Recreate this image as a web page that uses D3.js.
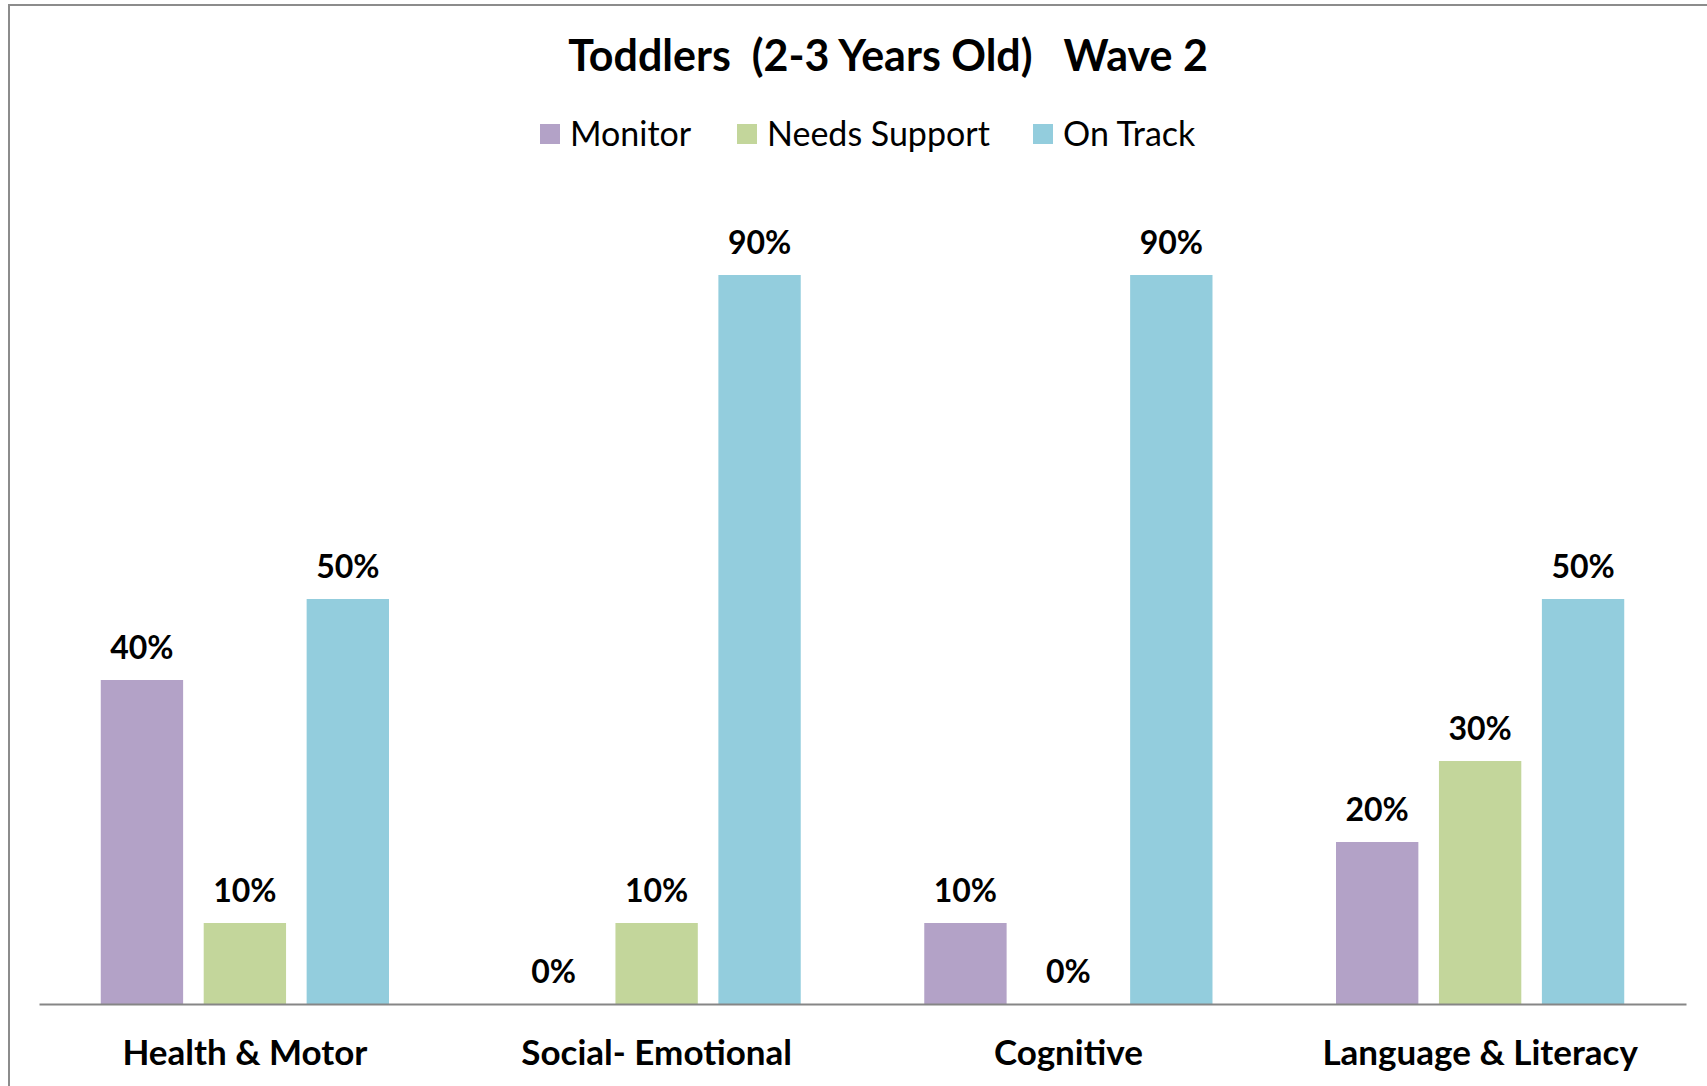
<!DOCTYPE html>
<html lang="en">
<head>
    <meta charset="UTF-8">
    <title>Toddlers Wave 2</title>
    <style>
        body { margin: 0; background: white; }
        text { font-family: Lato, "Open Sans", sans-serif; fill: #000; }
    </style>
    <script src="https://d3js.org/d3.v7.min.js"></script>
</head>
<body>
    <div class="graph"></div>
<script>
    // data
    const categories = ['Health & Motor', 'Social- Emotional', 'Cognitive', 'Language & Literacy']
    const series = ['Monitor', 'Needs Support', 'On Track']
    const monitor = [40, 0, 10, 20]
    const needsSupport = [10, 10, 0, 30]
    const onTrack = [50, 90, 90, 50]
    const colors = ['#b3a2c7', '#c3d69b', '#93cddd']

    const values = [monitor, needsSupport, onTrack]
    const rows = categories.map((c, i) => ({
        cat: c,
        vals: series.map((s, j) => ({ key: s, v: values[j][i] }))
    }))

    const width = 1707, height = 1086
    const svg = d3.select('.graph').append('svg')
        .attr('width', width)
        .attr('height', height)

    // frame (only top & left visible)
    svg.append('path')
        .attr('d', `M9 ${height} V5 H${width}`)
        .attr('fill', 'none')
        .attr('stroke', '#8c8c8c')
        .attr('stroke-width', 2)

    const x0 = d3.scaleBand()
        .domain(categories)
        .range([39, 1686])
    const x1 = d3.scaleBand()
        .domain(series)
        .range([0, x0.bandwidth()])
        .paddingInner(0.2)
        .paddingOuter(0.6)
    const y = d3.scaleLinear()
        .domain([0, 100])
        .range([1004, 194])

    // title
    svg.append('text')
        .attr('x', 888).attr('y', 71)
        .attr('text-anchor', 'middle')
        .attr('font-size', 43).attr('font-weight', 'bold')
        .attr('xml:space', 'preserve')
        .text('Toddlers  (2-3 Years Old)   Wave 2')

    // legend
    const legX = [540, 737, 1033]
    const leg = svg.selectAll('.leg').data(series).enter().append('g')
        .attr('class', 'leg')
        .attr('transform', (d, i) => `translate(${legX[i]}, 134)`)
    leg.append('rect')
        .attr('x', 0).attr('y', -10)
        .attr('width', 20).attr('height', 20)
        .attr('fill', (d, i) => colors[i])
    leg.append('text')
        .attr('x', 30).attr('y', 12)
        .attr('font-size', 34)
        .text(d => d)

    // bars
    const groups = svg.selectAll('.grp').data(rows).enter().append('g')
        .attr('class', 'grp')
        .attr('transform', d => `translate(${x0(d.cat)}, 0)`)
    groups.selectAll('rect').data(d => d.vals).enter().append('rect')
        .attr('x', d => x1(d.key))
        .attr('y', d => y(d.v))
        .attr('width', x1.bandwidth())
        .attr('height', d => y(0) - y(d.v))
        .attr('fill', (d, i) => colors[i])
    groups.selectAll('.val').data(d => d.vals).enter().append('text')
        .attr('class', 'val')
        .attr('x', d => x1(d.key) + x1.bandwidth() / 2)
        .attr('y', d => y(d.v) - 21)
        .attr('text-anchor', 'middle')
        .attr('font-size', 32).attr('font-weight', 'bold')
        .text(d => d.v + '%')

    // x axis
    const xAxis = svg.append('g')
        .attr('transform', `translate(0, ${y(0)})`)
        .call(d3.axisBottom(x0).tickSize(0).tickPadding(36))
    xAxis.select('.domain').attr('stroke', '#868686').attr('stroke-width', 2)
    xAxis.selectAll('text')
        .attr('font-size', 35).attr('font-weight', 'bold')
        .attr('font-family', 'Lato, sans-serif')
        .attr('fill', '#000')
</script>
</body>
</html>
